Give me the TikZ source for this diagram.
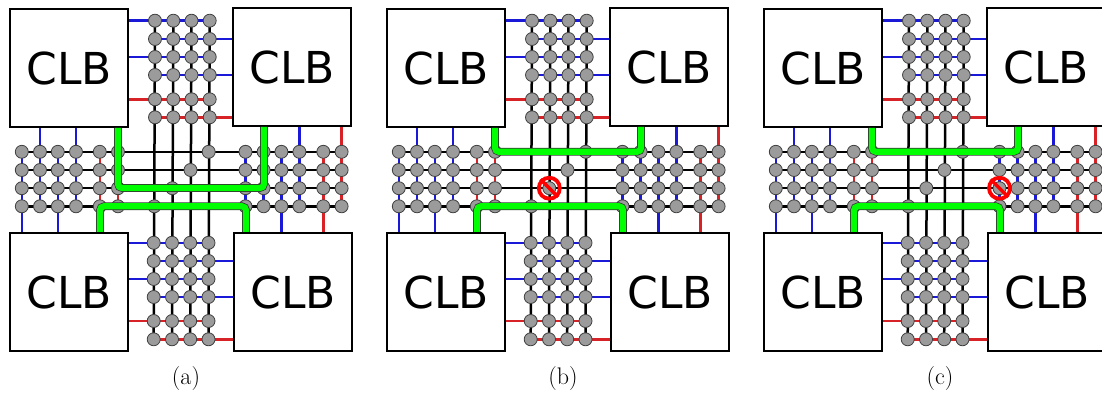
\documentclass[tikz,border=0pt]{standalone}
\usepackage{fontspec}
\setsansfont{DejaVu Sans}
\usetikzlibrary{backgrounds}
\pgfdeclarelayer{top}
\pgfsetlayers{background,main,top}
\definecolor{wblue}{RGB}{25,25,215}
\definecolor{wred}{RGB}{215,35,40}
\definecolor{sw}{RGB}{155,155,155}
\definecolor{rgreen}{RGB}{0,255,0}
\tikzset{
  x=1pt,y=-1pt,
  clb/.style={draw=black,line width=2.4pt,fill=white,minimum size=118.5pt,inner sep=0pt,font=\sffamily\fontsize{44}{44}\selectfont},
  swn/.style={circle,draw=black!75,line width=0.8pt,fill=sw,minimum size=13pt,inner sep=0pt},
  bw/.style={draw=black,line width=2.5pt},
  bl/.style={draw=wblue,line width=2.5pt},
  rd/.style={draw=wred,line width=2.5pt},
  routeo/.style={draw=black!80,line width=7.6pt,rounded corners=4pt},
  routei/.style={draw=rgreen,line width=6.2pt,rounded corners=4pt},
  nosign/.style={circle,draw=red,line width=3.8pt,minimum size=21pt,inner sep=0pt},
  captext/.style={font=\fontsize{24}{24}\selectfont,inner sep=0pt},
}
\newcommand{\fabric}[2]{%
\begin{scope}[xshift=#2pt]
  \node[clb] (#1tl) at (69,68) {CLB};
  \node[clb] (#1tr) at (292,67) {CLB};
  \node[clb] (#1bl) at (69,292) {CLB};
  \node[clb] (#1br) at (293,292) {CLB};
  % top and bottom switch grids
  \foreach \c/\xa/\xb in {1/155/153.7,2/173.3/172,3/191.5/190.2,4/209.7/208.5}{
    \foreach \r/\ya/\yb in {1/20.7/242.8,2/39/261,3/57/279,4/75/297,5/99.3/321,6/117.3/339.3}{
      \node[swn] (#1T\r\c) at (\xa,\ya) {};
      \node[swn] (#1B\r\c) at (\xb,\yb) {};
    }
  }
  % left and right switch grids
  \foreach \r/\y in {1/151.8,2/170,3/188.2,4/206.3}{
    \foreach \c/\xa/\xb in {1/21.8/245.5,2/40/263.6,3/57.8/281.4,4/76/299.4,5/99.8/323.3,6/118/341.6}{
      \node[swn] (#1L\r\c) at (\xa,\y) {};
      \node[swn] (#1R\r\c) at (\xb,\y) {};
    }
  }
  \begin{pgfonlayer}{background}
    % pins of the top and bottom grids
    \foreach \g/\a/\b in {T/tl/tr,B/bl/br}{
      \foreach \r/\col in {1/bl,3/bl,5/rd}{
        \draw[\col] (#1\g\r1.center -| #1\a.east) -- (#1\g\r4.center);
      }
      \foreach \r/\col in {2/bl,4/bl,6/rd}{
        \draw[\col] (#1\g\r1.center) -- (#1\g\r4.center -| #1\b.west);
      }
    }
    % pins of the left and right grids
    \foreach \g/\a/\b in {L/tl/bl,R/tr/br}{
      \foreach \c/\col in {2/bl,4/bl,6/rd}{
        \draw[\col] (#1\g1\c.center |- #1\a.south) -- (#1\g4\c.center);
      }
      \foreach \c/\col in {1/bl,3/bl,5/rd}{
        \draw[\col] (#1\g1\c.center) -- (#1\g4\c.center |- #1\b.north);
      }
    }
    % long black tracks
    \foreach \c in {1,2,3,4}{\draw[bw] (#1T1\c.center) -- (#1B6\c.center);}
    \foreach \r in {1,2,3,4}{\draw[bw] (#1L\r1.center) -- (#1R\r6.center);}
  \end{pgfonlayer}
\end{scope}}
\newcommand{\route}[1]{%
  \begin{pgfonlayer}{top}
    \draw[routeo] #1;
    \draw[routei] #1;
  \end{pgfonlayer}}
\begin{document}
\begin{tikzpicture}
\useasboundingbox (0,0) rectangle (1102,395);

\fabric{a}{0}
\fabric{b}{377}
\fabric{c}{754}

% centre switch points
\foreach \p/\dx in {a/0,b/377,c/754}{
  \node[swn] (\p c1) at (208.7+\dx,151.8) {};
  \node[swn] (\p c2) at (190.5+\dx,170) {};
  \node[swn] (\p c3) at (172.3+\dx,188.2) {};
  \node[swn] (\p c4) at (154.3+\dx,206.3) {};
}

% routes
\coordinate (ra1) at (118,128);  \coordinate (ra2) at (118,188); \coordinate (ra3) at (264,188); \coordinate (ra4) at (264,127);
\coordinate (ra5) at (100,232);  \coordinate (ra6) at (100,206.3); \coordinate (ra7) at (246,206.3); \coordinate (ra8) at (246,232);
\coordinate (rb1) at (495,128);  \coordinate (rb2) at (495,151.8); \coordinate (rb3) at (641,151.8); \coordinate (rb4) at (641,127);
\coordinate (rb5) at (477,232);  \coordinate (rb6) at (477,206.3); \coordinate (rb7) at (623,206.3); \coordinate (rb8) at (623,232);
\coordinate (rc1) at (872,128);  \coordinate (rc2) at (872,151.8); \coordinate (rc3) at (1018,151.8); \coordinate (rc4) at (1018,127);
\coordinate (rc5) at (854,232);  \coordinate (rc6) at (854,206.3); \coordinate (rc7) at (1000,206.3); \coordinate (rc8) at (1000,232);
\foreach \p in {a,b,c}{
  \route{(r\p1) -- (r\p2) -- (r\p3) -- (r\p4)}
  \route{(r\p5) -- (r\p6) -- (r\p7) -- (r\p8)}
}

% failed switches
\begin{pgfonlayer}{top}
  \node[nosign] (sb) at (bc3) {};
  \draw[red,line width=3.4pt] (sb.north west) -- (sb.south east);
  \node[nosign] (sc) at (cR31) {};
  \draw[red,line width=3.4pt] (sc.north west) -- (sc.south east);
\end{pgfonlayer}

% captions
\node[captext] (cpa) at (186,379) {(a)};
\node[captext] (cpb) at (563,379) {(b)};
\node[captext] (cpc) at (940,379) {(c)};
\end{tikzpicture}
\end{document}
